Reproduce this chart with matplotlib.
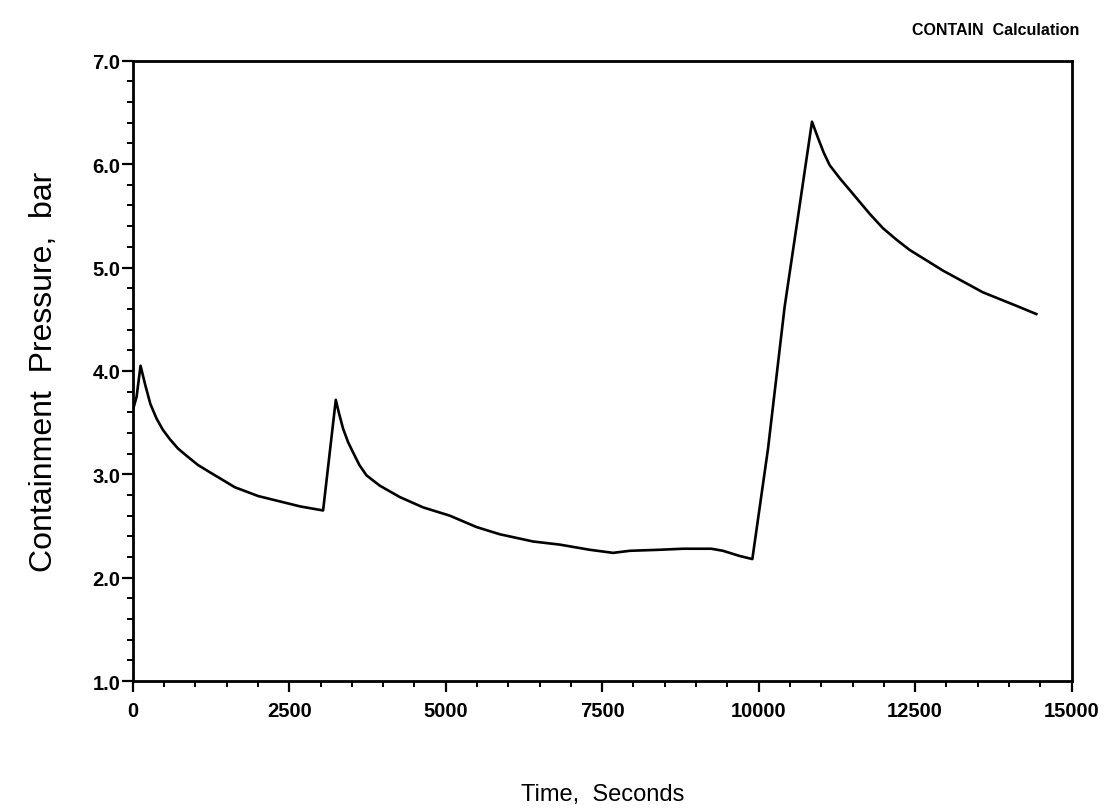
## containment pressure history from the CONTAIN calculation

import matplotlib
matplotlib.use("Agg")
import matplotlib.pyplot as plt
from matplotlib.ticker import MultipleLocator
import numpy as np

# values
time_s = [0, 60, 123, 200, 280, 378, 480, 591, 720, 857, 1040, 1230, 1629,
          2000, 2400, 2668, 3040, 3243, 3290, 3360, 3440, 3520, 3620, 3733,
          3946, 4265, 4638, 5064, 5490, 5863, 6395, 6821, 7300, 7673, 7939,
          8418, 8791, 9244, 9430, 9696, 9899, 10150, 10415, 10655, 10852,
          10950, 11040, 11134, 11300, 11454, 11773, 11986, 12200, 12412,
          12945, 13583, 14116, 14436]
pressure_bar = [3.62, 3.75, 4.05, 3.86, 3.68, 3.54, 3.43, 3.34, 3.25, 3.18,
                3.09, 3.02, 2.875, 2.79, 2.73, 2.69, 2.65, 3.72, 3.60, 3.44,
                3.31, 3.21, 3.09, 2.99, 2.89, 2.78, 2.68, 2.60, 2.49, 2.42,
                2.35, 2.32, 2.27, 2.24, 2.26, 2.27, 2.28, 2.28, 2.26, 2.21,
                2.18, 3.25, 4.62, 5.60, 6.41, 6.25, 6.11, 5.99, 5.86, 5.75,
                5.52, 5.38, 5.27, 5.17, 4.97, 4.76, 4.63, 4.55]

xticks = [0, 2500, 5000, 7500, 10000, 12500, 15000]
yticks = [1.0, 2.0, 3.0, 4.0, 5.0, 6.0, 7.0]

plt.rcParams['font.family'] = ['Liberation Sans', 'DejaVu Sans']

fig = plt.figure(figsize=(11.07, 8.12), dpi=100)
ax = fig.add_axes([0.120, 0.160, 0.848, 0.764])

ax.plot(time_s, pressure_bar, color="black", linewidth=1.9)

ax.set_xlim(0, 15000)
ax.set_ylim(1.0, 7.0)
ax.set_xticks(xticks)
ax.set_xticklabels([str(v) for v in xticks])
ax.set_yticks(yticks)
ax.set_yticklabels(["%.1f" % v for v in yticks])
ax.xaxis.set_minor_locator(MultipleLocator(500))
ax.yaxis.set_minor_locator(MultipleLocator(0.2))

ax.tick_params(which="major", direction="out", length=8, width=1.6,
               labelsize=14.5)
ax.tick_params(which="minor", direction="out", length=4, width=1.4)
ax.tick_params(axis="y", which="major", pad=1)
ax.tick_params(axis="x", which="major", pad=6)
for lab in ax.get_xticklabels() + ax.get_yticklabels():
    lab.set_fontweight("bold")

for sp in ax.spines.values():
    sp.set_linewidth(2.0)

ax.set_xlabel("Time,  Seconds", fontsize=17, labelpad=46)
ax.set_ylabel("Containment  Pressure,  bar", fontsize=23, labelpad=24)

fig.text(0.975, 0.962, "CONTAIN  Calculation", ha="right", va="center",
         fontsize=11.5, fontweight="bold")

plt.savefig("out.png", dpi=100)
